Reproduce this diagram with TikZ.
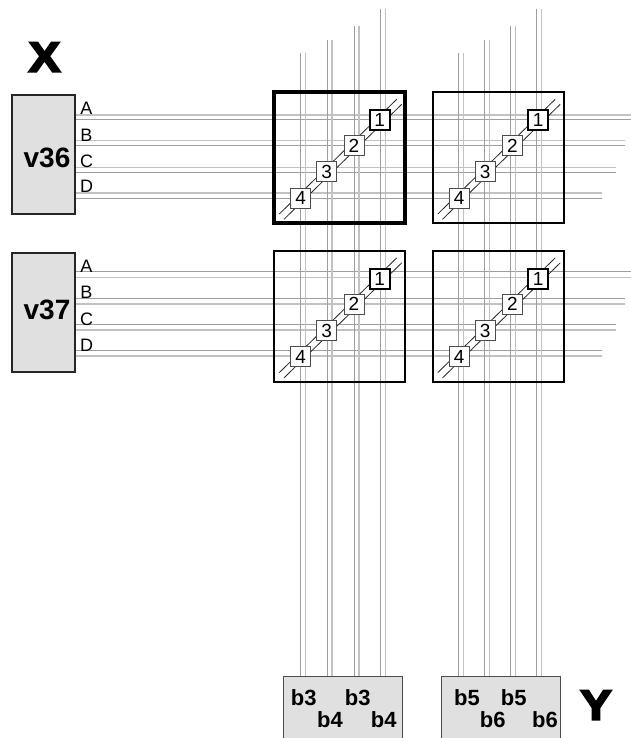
\documentclass[tikz,border=0pt]{standalone}
\usepackage{fontspec}
\setmainfont{Liberation Sans}
\newfontfamily\heavyfont[FakeBold=5,FakeStretch=1.12]{Liberation Sans Bold}
\newcommand{\fs}[1]{\fontsize{#1}{#1}\selectfont}
\tikzset{
  wirea/.style={draw=black!24,line width=1.3pt},
  wireb/.style={draw=black!38,line width=1pt},
  diag/.style={draw=black!85,line width=.8pt},
  srcbox/.style={draw=black!85,fill=black!12,line width=1.6pt,inner sep=0pt,minimum width=63pt,minimum height=119pt},
  destbox/.style={draw=black!70,fill=black!12,line width=.9pt,inner sep=0pt,minimum height=70pt},
  matbox/.style={draw=black,line width=2pt,inner sep=0pt,minimum width=131pt,minimum height=131pt},
  matthick/.style={matbox,line width=4.5pt},
  numbox/.style={draw=black!70,fill=white,line width=.9pt,inner sep=0pt,minimum width=20pt,minimum height=20pt,font=\fs{19}},
  numthick/.style={numbox,draw=black,line width=2.2pt,minimum width=20pt,minimum height=20pt},
  portlabel/.style={inner sep=0pt,font=\fs{18}},
  srclabel/.style={inner sep=0pt,font=\fs{28}\bfseries},
  destlabel/.style={inner sep=0pt,font=\fs{22}\bfseries},
  biglabel/.style={inner sep=0pt,font=\fs{42}\heavyfont},
}
\begin{document}
\begin{tikzpicture}[x=1pt,y=-1pt]
\useasboundingbox (0,0) rectangle (631,738);
% source and destination boxes
\node[srcbox] (v36) at (43.5,154.5) {};
\node[srcbox] (v37) at (43.5,312.2) {};
\path[clip] (0,0) rectangle (631,738);
\node[destbox,minimum width=119.5pt,anchor=north] (d1) at (343,676) {};
\node[destbox,minimum width=119pt,anchor=north] (d2) at (500.5,676) {};
% horizontal wires
\foreach \ya/\yb/\xe/\n in {115/120/631/a,140.8/146/625/b,167.3/172.3/616/c,193/198.3/602/d}{
  \coordinate (ha\n) at (\xe,\ya);
  \coordinate (hb\n) at (\xe,\yb);
  \draw[wirea] (v36.east |- ha\n) -- (ha\n);
  \draw[wireb] (v36.east |- hb\n) -- (hb\n);
}
\foreach \ya/\yb/\xe/\n in {271.7/277.3/631/a,298.7/304/625/b,324.7/330/616/c,350.7/356/602/d}{
  \coordinate (ka\n) at (\xe,\ya);
  \coordinate (kb\n) at (\xe,\yb);
  \draw[wireb] (v37.east |- ka\n) -- (ka\n);
  \draw[wirea] (v37.east |- kb\n) -- (kb\n);
}
% vertical wires
\foreach \xa/\xb/\yt/\n in {300.5/305.5/53/a,327/332/40/b,354/359/26/c,380.5/385.5/9/d}{
  \coordinate (ta\n) at (\xa,\yt);
  \coordinate (tb\n) at (\xb,\yt);
  \draw[wireb] (ta\n) -- (ta\n |- d1.north);
  \draw[wirea] (tb\n) -- (tb\n |- d1.north);
}
\foreach \xa/\xb/\yt/\n in {458.5/463.5/53/a,484.5/489.5/40/b,510.5/515.5/26/c,536.3/541.7/9/d}{
  \coordinate (ua\n) at (\xa,\yt);
  \coordinate (ub\n) at (\xb,\yt);
  \draw[wireb] (ua\n) -- (ua\n |- d2.north);
  \draw[wirea] (ub\n) -- (ub\n |- d2.north);
}
% matrix cells
\foreach \cx/\cy/\n/\sty in {339.5/157.7/p/matthick,498/157.7/q/matbox,339.5/316.3/r/matbox,498/316.3/s/matbox}{
  \node[\sty] (m\n) at (\cx,\cy) {};
  \coordinate (la\n) at ([xshift=-60.2pt,yshift=-56.3pt]m\n.center);
  \coordinate (lb\n) at ([xshift=57.2pt,yshift=58.4pt]m\n.center);
  \coordinate (lc\n) at ([xshift=-55.5pt,yshift=-61.6pt]m\n.center);
  \coordinate (ld\n) at ([xshift=62.2pt,yshift=53.4pt]m\n.center);
  \draw[diag] (la\n) -- (lb\n);
  \draw[diag] (lc\n) -- (ld\n);
  \node[numthick] (n1\n) at ([xshift=40.2pt,yshift=37.7pt]m\n.center) {1};
  \node[numbox] (n2\n) at ([xshift=14.5pt,yshift=12pt]m\n.center) {2};
  \node[numbox] (n3\n) at ([xshift=-12.8pt,yshift=-14.2pt]m\n.center) {3};
  \node[numbox] (n4\n) at ([xshift=-38.8pt,yshift=-40.4pt]m\n.center) {4};
}
% labels
\node[biglabel] (lx) at (44.5,57) {X};
\node[biglabel] (ly) at (596,705) {Y};
\node[srclabel] (t36) at (47,158) {v36};
\node[srclabel] (t37) at (47,310) {v37};
\foreach \t/\y in {A/108,B/135,C/161,D/186.7}{\node[portlabel] (p36\t) at (86.5,\y) {\t};}
\foreach \t/\y in {A/266.7,B/292.3,C/319,D/345}{\node[portlabel] (p37\t) at (86.5,\y) {\t};}
\node[destlabel] (b1) at (303.7,698) {b3};
\node[destlabel] (b2) at (330,720) {b4};
\node[destlabel] (b3) at (357.7,698) {b3};
\node[destlabel] (b4) at (383.7,720) {b4};
\node[destlabel] (b5) at (467,698) {b5};
\node[destlabel] (b6) at (492.7,720) {b6};
\node[destlabel] (b7) at (513.7,698) {b5};
\node[destlabel] (b8) at (545,720) {b6};
\end{tikzpicture}
\end{document}
